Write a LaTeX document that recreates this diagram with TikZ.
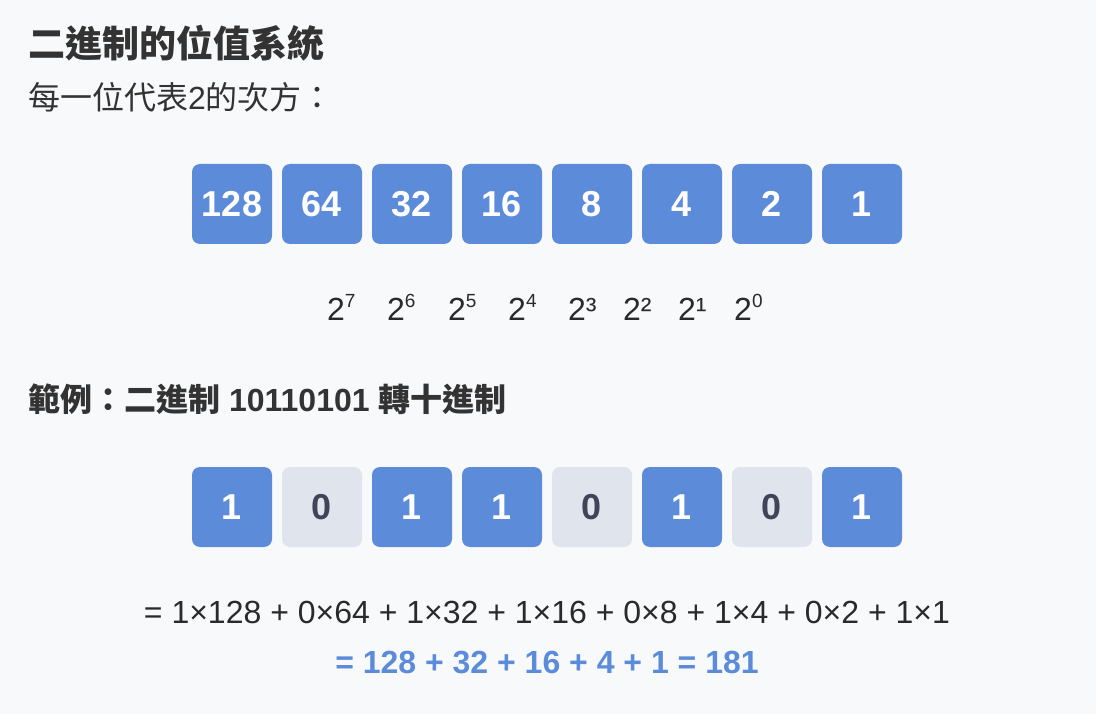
\documentclass[tikz,border=0pt]{standalone}
\usepackage{fontspec}
\setmainfont{Liberation Sans}
\newfontfamily\cjk{Noto Sans CJK TC}
\definecolor{bgc}{HTML}{F8F9FB}
\definecolor{bluec}{HTML}{5B8BD9}
\definecolor{greyc}{HTML}{E0E4EC}
\definecolor{zeroc}{HTML}{3F4459}
\definecolor{darkc}{HTML}{333333}
\definecolor{textc}{HTML}{2A2A2A}
\newcommand{\fs}[1]{\fontsize{#1}{#1}\selectfont}
\newcommand{\supx}[1]{\raisebox{0.42em}{\fs{19}#1}}
\tikzset{
  onebox/.style={rounded corners=8pt, fill=bluec, minimum width=80pt, minimum height=80pt, inner sep=0pt, text=white, font=\fs{36}\bfseries},
  zerobox/.style={onebox, fill=greyc, text=zeroc},
  txt/.style={inner sep=0pt, anchor=base west, text=darkc},
  pw/.style={inner sep=0pt, anchor=base west, text=textc, font=\fs{32}}
}
\begin{document}
\begin{tikzpicture}[x=1pt,y=-1pt]
\fill[bgc] (0,0) rectangle (1096,714);
\useasboundingbox (0,0) rectangle (1096,714);
\node[txt, font=\fs{37}\bfseries\cjk] (title) at (28,57.5) {二進制的位值系統};
\node[txt, font=\fs{32}] (sub) at (28,109.5) {{\cjk 每一位代表}2{\cjk 的次方：}};
% place values
\foreach \v [count=\i from 0] in {128,64,32,16,8,4,2,1} {
  \node[onebox] (p\i) at (232+90*\i,204) {\v};
}
% powers
\node[pw] (e7) at (327,321) {2\supx{7}};
\node[pw] (e6) at (387,321) {2\supx{6}};
\node[pw] (e5) at (448,321) {2\supx{5}};
\node[pw] (e4) at (508,321) {2\supx{4}};
\node[pw] (e3) at (568,321) {2³};
\node[pw] (e2) at (623,321) {2²};
\node[pw] (e1) at (678,321) {2¹};
\node[pw] (e0) at (734,321) {2\supx{0}};
% example heading
\node[txt, font=\fs{32}\bfseries] (ex) at (28,411) {{\cjk\bfseries 範例：二進制} 10110101 {\cjk\bfseries 轉十進制}};
% bits
\node[onebox] (b0) at (232,507) {1};
\node[zerobox] (b1) at (322,507) {0};
\node[onebox] (b2) at (412,507) {1};
\node[onebox] (b3) at (502,507) {1};
\node[zerobox] (b4) at (592,507) {0};
\node[onebox] (b5) at (682,507) {1};
\node[zerobox] (b6) at (772,507) {0};
\node[onebox] (b7) at (862,507) {1};
% formula
\node[inner sep=0pt, anchor=base, text=textc, font=\fs{32}] (f1) at (547,623) {= 1×128 + 0×64 + 1×32 + 1×16 + 0×8 + 1×4 + 0×2 + 1×1};
\node[inner sep=0pt, anchor=base, text=bluec, font=\fs{32}\bfseries] (f2) at (547,673) {= 128 + 32 + 16 + 4 + 1 = 181};
\end{tikzpicture}
\end{document}
